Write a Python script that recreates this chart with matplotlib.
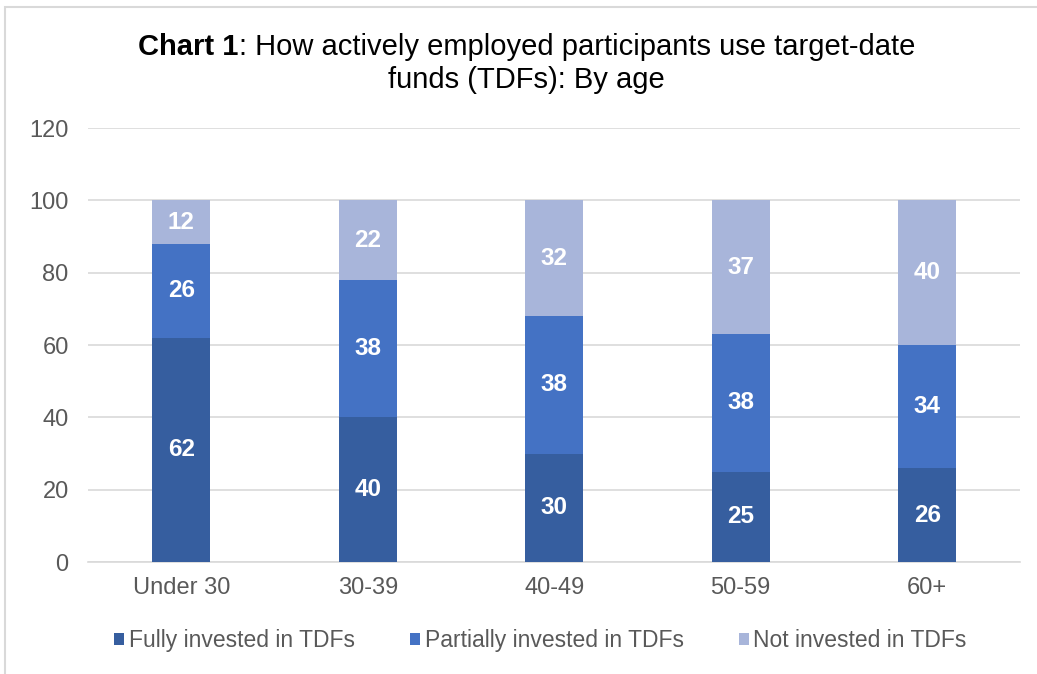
import numpy as np
import matplotlib.pyplot as plt
from matplotlib.patches import Rectangle

plt.rcParams['font.family'] = ['Liberation Sans', 'DejaVu Sans']

# data
ages = ['Under 30', '30-39', '40-49', '50-59', '60+']
fully = [62, 40, 30, 25, 26]
partially = [26, 38, 38, 38, 34]
not_invested = [12, 22, 32, 37, 40]
series_names = ['Fully invested in TDFs', 'Partially invested in TDFs', 'Not invested in TDFs']
colors = ['#365E9F', '#4472C4', '#A8B5DA']

fig = plt.figure(figsize=(10.37, 6.74), dpi=100)
ax = fig.add_axes([0.085, 0.166, 0.899, 0.644])

x = np.arange(len(ages))
bottom = np.zeros(len(ages))
for vals, name, c in zip([fully, partially, not_invested], series_names, colors):
    vals = np.array(vals)
    ax.bar(x, vals, width=0.31, bottom=bottom, color=c, label=name, zorder=3)
    for xi, b, v in zip(x, bottom, vals):
        ax.text(xi, b + v / 2, str(v), ha='center', va='center', color='white',
                fontsize=17.5, fontweight='bold', zorder=4)
    bottom += vals

ax.set_xlim(-0.5, 4.5)
ax.set_ylim(0, 120)
ax.set_yticks(range(0, 121, 20))
ax.set_xticks(x)
ax.set_xticklabels(ages)
ax.grid(axis='y', color='#D9D9D9', linewidth=1.2, zorder=0)
for s in ['top', 'right', 'left']:
    ax.spines[s].set_visible(False)
ax.spines['bottom'].set_color('#D9D9D9')
ax.spines['bottom'].set_linewidth(1.2)
ax.tick_params(axis='both', length=0, labelsize=17, colors='#595959')
ax.tick_params(axis='x', pad=11)
ax.tick_params(axis='y', pad=14)

# title: bold "Chart 1" followed by regular text, centred as one line
title_x = 0.508
fig.canvas.draw()
r = fig.canvas.get_renderer()
t1 = fig.text(0, 0.930, 'Chart 1', fontsize=21, fontweight='bold', va='center')
t2 = fig.text(0, 0.930, ': How actively employed participants use target-date',
              fontsize=21, va='center')
w1 = t1.get_window_extent(r).width / fig.bbox.width
w2 = t2.get_window_extent(r).width / fig.bbox.width
start = title_x - (w1 + w2) / 2
t1.set_x(start)
t2.set_x(start + w1)
fig.text(title_x, 0.881, 'funds (TDFs): By age', ha='center', va='center', fontsize=21)

fig.legend(loc='center', bbox_to_anchor=(0.521, 0.049), ncol=3, frameon=False,
           fontsize=16.5, handlelength=0.45, handleheight=0.45, handletextpad=0.2,
           columnspacing=2.4, labelcolor='#595959')

# light frame around the chart
fig.patches.append(Rectangle((0.005, -0.01), 1.2, 1.0, transform=fig.transFigure,
                             fill=False, edgecolor='#D9D9D9', linewidth=1.5))

fig.savefig('out.png', dpi=100)
